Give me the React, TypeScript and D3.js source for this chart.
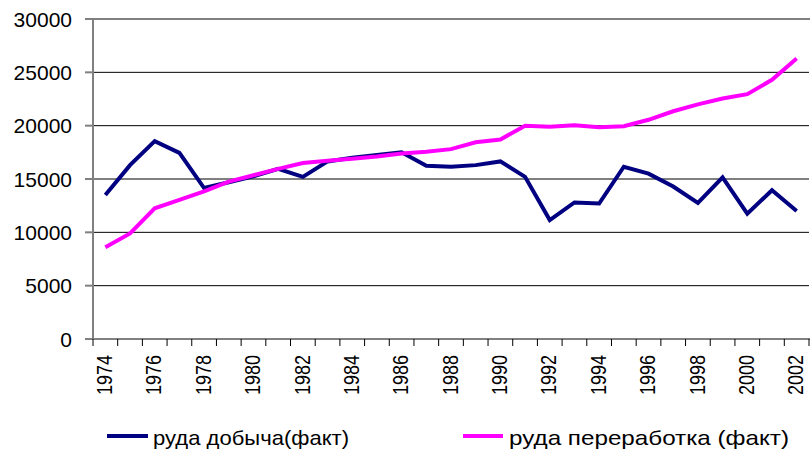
import React from "react";
import * as d3 from "d3";

const years = d3.range(1974, 2003).map(String);
const mining = [13500, 16300, 18550, 17450, 14150, 14700, 15250, 15950, 15200, 16650, 17000, 17250, 17500, 16250, 16150, 16300, 16650, 15200, 11150, 12800, 12700, 16150, 15500, 14300, 12750, 15150, 11750, 13950, 12000];
const processing = [8600, 9900, 12250, 13050, 13850, 14750, 15350, 15950, 16500, 16700, 16900, 17100, 17400, 17550, 17800, 18450, 18700, 20000, 19900, 20050, 19850, 19950, 20550, 21350, 22000, 22550, 22950, 24300, 26300];
const yTicks = [0, 5000, 10000, 15000, 20000, 25000, 30000];
const seriesNames = ["руда добыча(факт)", "руда переработка (факт)"];
const seriesColors = ["#000080", "#FF00FF"];

const W = 810, H = 453;
const left = 93, right = 809, top = 19, bottom = 339;
const FONT = "'Liberation Sans', Arial, sans-serif";

export default function App() {
  const x = d3.scaleBand<string>().domain(years).range([left, right]).padding(0);
  const y = d3.scaleLinear().domain([0, 30000]).range([bottom, top]);
  const cx = (d: string) => (x(d) as number) + x.bandwidth() / 2;
  const line = d3.line<number>().x((_, i) => cx(years[i])).y((v) => y(v));
  const series = [mining, processing];
  const boundaries = d3.range(years.length + 1).map((i) => left + i * x.bandwidth());
  const legend = [
    { x1: 107, x2: 148, tx: 153, len: 196 },
    { x1: 463, x2: 503, tx: 509, len: 280 },
  ];
  return (
    <svg width={W} height={H} style={{ position: "absolute", left: 0, top: 0, background: "#fff" }} fontFamily={FONT}>
      {yTicks.map((t) => (
        <g key={t}>
          {t > 0 && t < 30000 && (
            <line x1={left} x2={right} y1={y(t)} y2={y(t)} stroke="#000" strokeWidth={1} />
          )}
          <line x1={left - 8} x2={left} y1={y(t)} y2={y(t)} stroke="#808080" strokeWidth={2} />
          <text x={72} y={y(t)} textAnchor="end" dominantBaseline="central" fontSize={21} fill="#000">
            {t}
          </text>
        </g>
      ))}
      <line x1={left} x2={right + 2} y1={top} y2={top} stroke="#808080" strokeWidth={2} />
      <line x1={left} x2={left} y1={top} y2={bottom} stroke="#808080" strokeWidth={2} />
      <line x1={left - 8} x2={right + 2} y1={bottom} y2={bottom} stroke="#808080" strokeWidth={2} />
      {boundaries.map((bx, i) => (
        <line key={i} x1={bx} x2={bx} y1={bottom} y2={bottom + 7} stroke="#000" strokeWidth={1} />
      ))}
      {years.map((yr, i) =>
        i % 2 === 0 ? (
          <text
            key={yr}
            transform={`translate(${cx(yr) - 1},${bottom + 16}) rotate(-90) scale(1,1.25)`}
            textAnchor="end"
            dominantBaseline="central"
            fontSize={18}
            fill="#000"
          >
            {yr}
          </text>
        ) : null
      )}
      {series.map((s, k) => (
        <path key={k} d={line(s) || ""} fill="none" stroke={seriesColors[k]} strokeWidth={4} strokeLinejoin="miter" />
      ))}
      {legend.map((l, k) => (
        <g key={k}>
          <line x1={l.x1} x2={l.x2} y1={436} y2={436} stroke={seriesColors[k]} strokeWidth={4} />
          <text
            x={l.tx}
            y={437}
            dominantBaseline="central"
            fontSize={21}
            fill="#000"
            textLength={l.len}
            lengthAdjust="spacingAndGlyphs"
          >
            {seriesNames[k]}
          </text>
        </g>
      ))}
    </svg>
  );
}
